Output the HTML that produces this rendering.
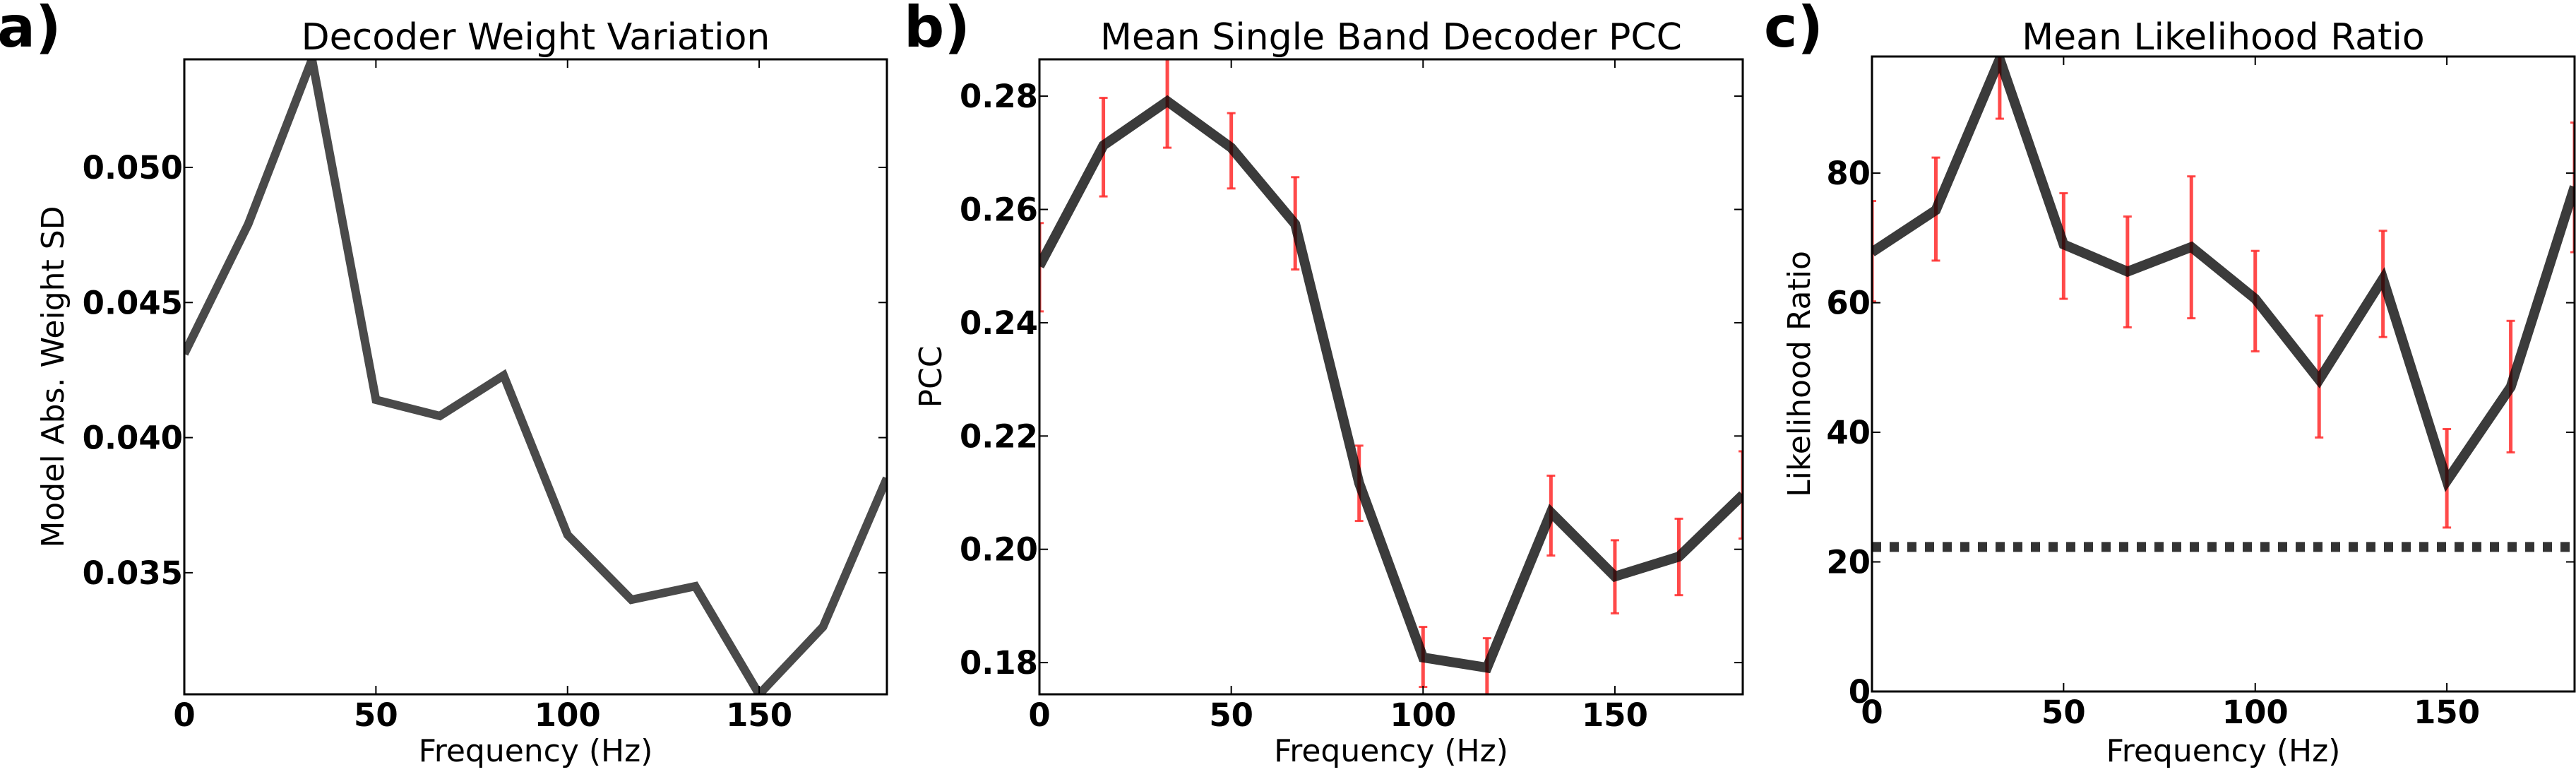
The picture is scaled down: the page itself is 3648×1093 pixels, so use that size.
<!DOCTYPE html>
<html><head><meta charset="utf-8">
<style>
html,body{margin:0;padding:0;background:#fff;}
svg{display:block;font-family:"DejaVu Sans","Liberation Sans",sans-serif;}
</style></head>
<body>
<svg id="fig" width="3648" height="1093" viewBox="0 0 3648 1093" xmlns="http://www.w3.org/2000/svg"></svg>
<script>
const freqs = [0, 16.67, 33.33, 50, 66.67, 83.33, 100, 116.67, 133.33, 150, 166.67, 183.33];
const weightSD = [0.0431, 0.0479, 0.0540, 0.0414, 0.0408, 0.0423, 0.0364, 0.0340, 0.0345, 0.0305, 0.0330, 0.0385];
const pccMean = [0.250, 0.2713, 0.2791, 0.2709, 0.2574, 0.2117, 0.1809, 0.1791, 0.2065, 0.1952, 0.1987, 0.2096];
const pccHi = [0.2576, 0.2797, 0.2865, 0.2770, 0.2657, 0.2183, 0.1863, 0.1843, 0.2130, 0.2016, 0.2054, 0.2173];
const pccLo = [0.2420, 0.2623, 0.2709, 0.2637, 0.2494, 0.2050, 0.1757, 0.1744, 0.1989, 0.1887, 0.1919, 0.2019];
const lrMean = [67.8, 74.3, 97.6, 69.0, 64.8, 68.6, 60.6, 48.1, 63.7, 32.5, 47.0, 77.9];
const lrHi = [75.7, 82.4, 106, 76.9, 73.3, 79.5, 68.0, 58.0, 71.1, 40.5, 57.2, 87.8];
const lrLo = [60.2, 66.5, 88.4, 60.6, 56.2, 57.6, 52.5, 39.2, 54.7, 25.3, 36.9, 67.8];
const lrThreshold = 22.3;
const xTicks = [0, 50, 100, 150];
const yTicksA = [0.035, 0.040, 0.045, 0.050];
const yTicksB = [0.18, 0.20, 0.22, 0.24, 0.26, 0.28];
const yTicksC = [0, 20, 40, 60, 80];

const NS = "http://www.w3.org/2000/svg";
const svg = document.getElementById('fig');
function mk(tag, attrs, parent) {
  const e = document.createElementNS(NS, tag);
  for (const k in attrs) e.setAttribute(k, attrs[k]);
  (parent || svg).appendChild(e);
  return e;
}

function panel(o) {
  const g = mk('g', {});
  
  
  const L = o.L, R = o.R, T = o.T, B = o.B;
  const sx = v => L + (v - 0) / (183.33 - 0) * (R - L);
  const sy = v => B - (v - o.ymin) / (o.ymax - o.ymin) * (B - T);
  const cid = 'clip-' + o.name;
  const cp = mk('clipPath', { id: cid }, g);
  mk('rect', { x: L, y: T, width: R - L, height: B - T }, cp);
  const plot = mk('g', { 'clip-path': 'url(#' + cid + ')' }, g);

  if (o.hi) {
    for (let i = 0; i < freqs.length; i++) {
      const x = sx(freqs[i]);
      const eb = mk('g', { stroke: '#ff2a2a', 'stroke-opacity': '0.85', 'stroke-width': 5 }, plot);
      
      
      mk('line', { x1: x, x2: x, y1: sy(o.hi[i]), y2: sy(o.lo[i]) }, eb);
      mk('line', { x1: x - 6, x2: x + 6, y1: sy(o.hi[i]), y2: sy(o.hi[i]), 'stroke-width': 3 }, eb);
      mk('line', { x1: x - 6, x2: x + 6, y1: sy(o.lo[i]), y2: sy(o.lo[i]), 'stroke-width': 3 }, eb);
    }
  }
  if (o.thresh !== undefined) {
    const th = mk('line', { x1: L, x2: R, y1: sy(o.thresh), y2: sy(o.thresh), stroke: '#333', 'stroke-width': 14, 'stroke-dasharray': '13 12' }, plot);
    
    
  }
  const pts = freqs.map((f, i) => sx(f) + ',' + sy(o.vals[i])).join(' ');
  const ln = mk('polyline', { points: pts, fill: 'none', stroke: o.lineColor, 'stroke-opacity': o.lineOpacity, 'stroke-width': o.lw, 'stroke-linejoin': 'miter' }, plot);
  
  

  const fr = mk('rect', { x: L, y: T, width: R - L, height: B - T, fill: 'none', stroke: '#000', 'stroke-width': 3 }, g);
  
  

  xTicks.forEach(t => {
    const x = sx(t);
    mk('line', { x1: x, x2: x, y1: B, y2: B - 12, stroke: '#000', 'stroke-width': 2 }, g);
    mk('line', { x1: x, x2: x, y1: T, y2: T + 12, stroke: '#000', 'stroke-width': 2 }, g);
    const tx = mk('text', { x: x, y: B + 45, 'text-anchor': 'middle', 'font-size': 45, 'font-weight': 'bold' }, g);
    tx.textContent = t;
    
    
  });
  o.yTicks.forEach(t => {
    const y = sy(t);
    mk('line', { x1: L, x2: L + 12, y1: y, y2: y, stroke: '#000', 'stroke-width': 2 }, g);
    mk('line', { x1: R, x2: R - 12, y1: y, y2: y, stroke: '#000', 'stroke-width': 2 }, g);
    const tx = mk('text', { x: L - 2, y: y + 16, 'text-anchor': 'end', 'font-size': 45, 'font-weight': 'bold' }, g);
    tx.textContent = o.fmt(t);
    
    
  });
  const title = mk('text', { x: (L + R) / 2, y: 70, 'text-anchor': 'middle', 'font-size': 52 }, g);
  title.textContent = o.title;
  
  
  const xl = mk('text', { x: (L + R) / 2, y: 1078, 'text-anchor': 'middle', 'font-size': 44 }, g);
  xl.textContent = 'Frequency (Hz)';
  
  
  const cy = (T + B) / 2;
  const yl = mk('text', { x: o.ylx, y: cy, 'text-anchor': 'middle', 'font-size': 44, transform: 'rotate(-90 ' + o.ylx + ' ' + cy + ')' }, g);
  yl.textContent = o.ylabel;
  
  
  const lt = mk('text', { x: o.letterX, y: 66, 'font-size': 80, 'font-weight': 'bold' }, g);
  lt.textContent = o.letter;
  
  
}

panel({ name: 'panel-a', L: 261, R: 1256, T: 84, B: 983, ymin: 0.0305, ymax: 0.0540, vals: weightSD,
  yTicks: yTicksA, fmt: t => t.toFixed(3), lineColor: '#4a4a4a', lineOpacity: 1, lw: 12,
  title: 'Decoder Weight Variation', ylabel: 'Model Abs. Weight SD', ylx: 90, letter: 'a)', letterX: -4 });
panel({ name: 'panel-b', L: 1472, R: 2468, T: 84, B: 983, ymin: 0.1744, ymax: 0.2865, vals: pccMean, hi: pccHi, lo: pccLo,
  yTicks: yTicksB, fmt: t => t.toFixed(2), lineColor: '#000', lineOpacity: 0.77, lw: 14,
  title: 'Mean Single Band Decoder PCC', ylabel: 'PCC', ylx: 1333, letter: 'b)', letterX: 1280 });
panel({ name: 'panel-c', L: 2651, R: 3646, T: 80, B: 979, ymin: 0, ymax: 98, vals: lrMean, hi: lrHi, lo: lrLo, thresh: lrThreshold,
  yTicks: yTicksC, fmt: t => String(t), lineColor: '#000', lineOpacity: 0.77, lw: 14,
  title: 'Mean Likelihood Ratio', ylabel: 'Likelihood Ratio', ylx: 2563, letter: 'c)', letterX: 2498 });
</script>
</body></html>
